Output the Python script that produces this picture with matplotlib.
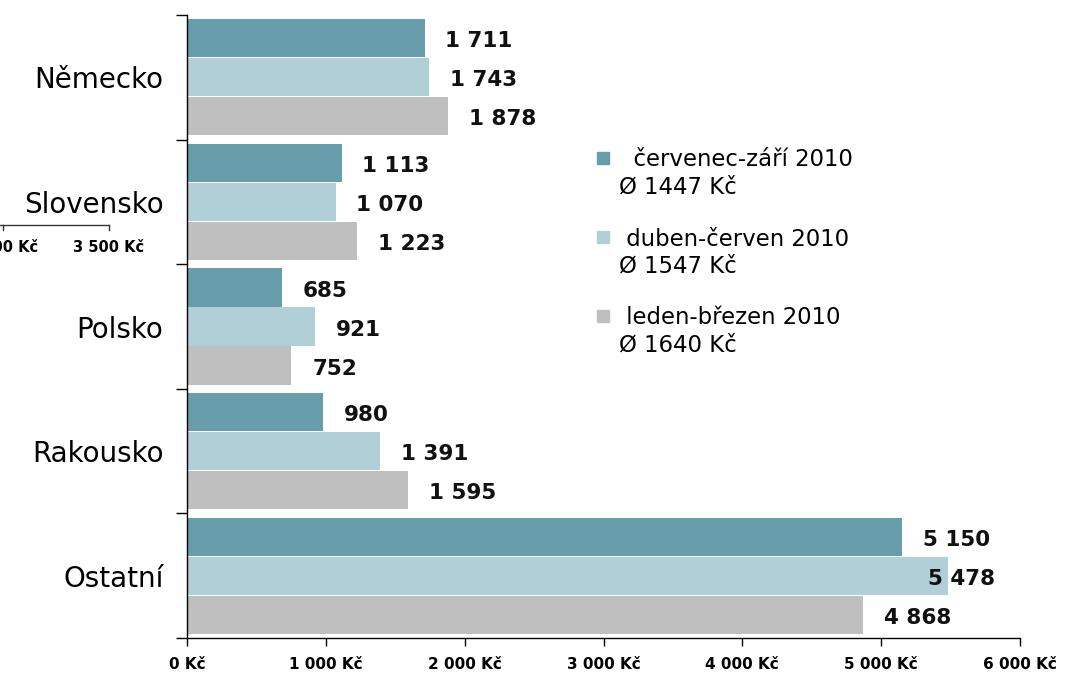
"""Average spend per trip by destination country, three quarters of 2010."""

import matplotlib
matplotlib.use("Agg")
import matplotlib.pyplot as plt
from matplotlib.patches import Rectangle
from matplotlib.lines import Line2D
import numpy as np

countries = ["Německo", "Slovensko", "Polsko", "Rakousko", "Ostatní"]
q3_2010 = [1711, 1113, 685, 980, 5150]   # červenec-září
q2_2010 = [1743, 1070, 921, 1391, 5478]  # duben-červen
q1_2010 = [1878, 1223, 752, 1595, 4868]  # leden-březen
series_names = ["červenec-září 2010", "duben-červen 2010", "leden-březen 2010"]
series_avg = ["Ø 1447 Kč", "Ø 1547 Kč", "Ø 1640 Kč"]
x_ticks = [0, 1000, 2000, 3000, 4000, 5000, 6000]

COLORS = ["#689EAC", "#B1CFD6", "#BFBFBF"]
W, H = 1066, 675


def fmt(v):
    return f"{v:,}".replace(",", " ")


def px(x, y):
    # pixel position (from top-left) -> figure fraction
    return x / W, 1 - y / H


fig = plt.figure(figsize=(W / 100, H / 100), dpi=100)
ax = fig.add_axes([187 / W, 37 / H, (1020 - 187) / W, (638 - 15) / H])

y = np.arange(len(countries))
offsets = [-0.313, 0.0, 0.313]
for vals, off, col in zip([q3_2010, q2_2010, q1_2010], offsets, COLORS):
    ax.barh(y + off, vals, height=0.305, color=col, edgecolor="none")
    for yi, v in zip(y, vals):
        ax.text(min(v + 150, 5340), yi + off + 0.025, fmt(v), va="center", ha="left",
                fontsize=15.5, fontweight="bold", color="#111111")

ax.set_xlim(0, 6000)
ax.set_ylim(len(countries) - 0.5, -0.5)
ax.set_xticks(x_ticks)
ax.set_xticklabels([f"{fmt(t)} Kč" for t in x_ticks], fontsize=11, fontweight="bold")
ax.tick_params(axis="x", length=6, width=1, pad=8)

ax.set_yticks(np.arange(-0.5, len(countries)))
ax.set_yticklabels([])
ax.tick_params(axis="y", which="major", length=8, width=1)
ax.set_yticks(y, minor=True)
ax.set_yticklabels(countries, minor=True, fontsize=20)
ax.tick_params(axis="y", which="minor", length=0, pad=17)

for s in ("top", "right"):
    ax.spines[s].set_visible(False)
for s in ("left", "bottom"):
    ax.spines[s].set_linewidth(1)

# legend drawn by hand: square + two-line label
for i, (name, avg, col) in enumerate(zip(series_names, series_avg, COLORS)):
    cy = 158 + i * 79
    sx, sy = px(597, cy + 6)
    fig.add_artist(Rectangle((sx, sy), 12 / W, 12 / H, color=col,
                             transform=fig.transFigure))
    lead = "  " if i == 0 else " "
    fig.text(*px(619, cy + 2), lead + name, fontsize=16.4, va="center", ha="left")
    fig.text(*px(619, cy + 29), avg, fontsize=16.4, va="center", ha="left")

# leftover axis fragment from a neighbouring chart in the source image
fig.add_artist(Line2D([0, 109 / W], [1 - 225 / H] * 2, color="#333333", lw=1,
                      transform=fig.transFigure))
for tx, lab in [(3, "3 000 Kč"), (109, "3 500 Kč")]:
    fig.add_artist(Line2D([tx / W] * 2, [1 - 225 / H, 1 - 230 / H], color="#333333",
                          lw=1, transform=fig.transFigure))
    fig.text(*px(tx, 248), lab, fontsize=10.5, fontweight="bold", ha="center", va="center")

fig.savefig("out.png", dpi=100)
